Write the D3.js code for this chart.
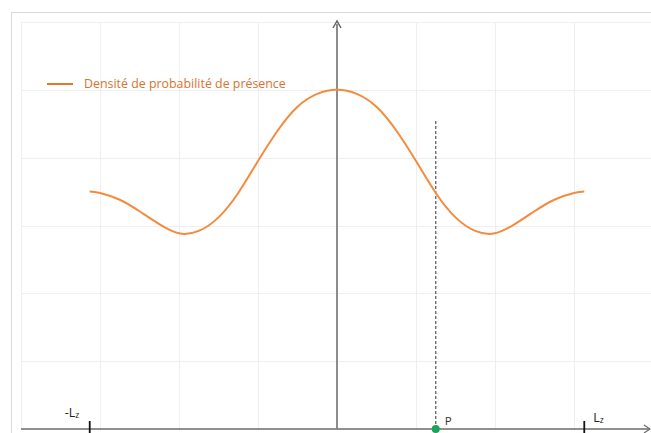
<!DOCTYPE html>
<html><head><meta charset="utf-8">
<script src="https://cdn.jsdelivr.net/npm/d3@7"></script>
<style>body{margin:0;background:#fff}svg{display:block}</style>
</head><body>
<svg id="c" width="651" height="433"></svg>
<script>
// ---- data ----
const xs = [-3.13,-3.0,-2.75,-2.5,-2.25,-2.0,-1.75,-1.5,-1.25,-1.0,-0.75,-0.5,-0.25,0,0.25,0.5,0.75,1.0,1.25,1.5,1.75,2.0,2.25,2.5,2.75,3.0,3.13];
const density = [3.50,3.48,3.38,3.21,3.02,2.885,2.92,3.12,3.48,3.95,4.40,4.75,4.94,5.0,4.94,4.75,4.40,3.95,3.48,3.12,2.92,2.885,3.02,3.21,3.38,3.48,3.50];
const seriesName = "Densité de probabilité de présence";
const tickValues = [-3.13, 3.13];
const tickLabels = [{main:"-L", sub:"z"}, {main:"L", sub:"z"}];
const pointP = {x:1.25, label:"P", top:4.54};
const gridX = [-4,-3,-2,-1,0,1,2,3,4];
const gridY = [0,1,2,3,4,5,6];

const svg = d3.select("#c");
const x = d3.scaleLinear().domain([-4,4]).range([21,653]);
const y = d3.scaleLinear().domain([0,6]).range([429,22]);

// outer frame
svg.append("rect").attr("x",11.5).attr("y",12.5).attr("width",700).attr("height",500)
  .attr("fill","none").attr("stroke","#d9d9d9").attr("stroke-width",1);

// grid
svg.append("g").selectAll("line").data(gridX).join("line")
  .attr("x1",d=>Math.round(x(d))+0.5).attr("x2",d=>Math.round(x(d))+0.5)
  .attr("y1",y(6)).attr("y2",y(0))
  .attr("stroke","#efefef").attr("stroke-width",1);
svg.append("g").selectAll("line").data(gridY.slice(1)).join("line")
  .attr("y1",d=>Math.round(y(d))+0.5).attr("y2",d=>Math.round(y(d))+0.5)
  .attr("x1",x(-4)).attr("x2",660)
  .attr("stroke","#efefef").attr("stroke-width",1);

// x axis line with arrow
const xAxisY = y(0);
svg.append("line").attr("x1",x(-4)).attr("x2",650).attr("y1",xAxisY).attr("y2",xAxisY)
  .attr("stroke","#6b6b6b").attr("stroke-width",1.3);
svg.append("path").attr("d",`M644,${xAxisY-4} L650,${xAxisY} L644,${xAxisY+4}`)
  .attr("fill","none").attr("stroke","#6b6b6b").attr("stroke-width",1.2);

// y axis with arrow
svg.append("line").attr("x1",x(0)).attr("x2",x(0)).attr("y1",y(0)).attr("y2",y(6)+2)
  .attr("stroke","#808080").attr("stroke-width",1.8);
svg.append("path").attr("d",`M${x(0)-4},${y(6)+6} L${x(0)},${y(6)-1} L${x(0)+4},${y(6)+6}`)
  .attr("fill","none").attr("stroke","#606060").attr("stroke-width",1.4);

// ticks
svg.append("g").selectAll("line").data(tickValues).join("line")
  .attr("x1",d=>x(d)).attr("x2",d=>x(d)).attr("y1",xAxisY-8).attr("y2",xAxisY+5)
  .attr("stroke","#111").attr("stroke-width",1.8);
const tl = svg.append("g").selectAll("text").data(tickValues).join("text")
  .attr("x",(d,i)=> i===0 ? x(d)-25 : x(d)+9)
  .attr("y",(d,i)=> i===0 ? xAxisY-12 : xAxisY-7)
  .attr("font-family","Open Sans, sans-serif").attr("font-size",12.5).attr("fill","#222");
tl.append("tspan").text((d,i)=>tickLabels[i].main);
tl.append("tspan").attr("font-size",8.5).attr("dy",1).text((d,i)=>tickLabels[i].sub);

// dashed line at P
svg.append("line").attr("x1",x(pointP.x)).attr("x2",x(pointP.x))
  .attr("y1",y(pointP.top)).attr("y2",xAxisY)
  .attr("stroke","#555").attr("stroke-width",1.2).attr("stroke-dasharray","3,2");

// curve
const pts = xs.map((v,i)=>[v,density[i]]);
svg.append("path").datum(pts)
  .attr("d", d3.line().x(d=>x(d[0])).y(d=>y(d[1])).curve(d3.curveNatural))
  .attr("fill","none").attr("stroke","#F28B3E").attr("stroke-width",2);

// point P
svg.append("circle").attr("cx",x(pointP.x)).attr("cy",xAxisY).attr("r",4)
  .attr("fill","#1BA35B");
svg.append("text").attr("x",x(pointP.x)+9).attr("y",xAxisY-4)
  .attr("font-family","Open Sans, sans-serif").attr("font-size",11.5).attr("fill","#333")
  .text(pointP.label);

// legend
svg.append("line").attr("x1",47).attr("x2",73).attr("y1",84).attr("y2",84)
  .attr("stroke","#E07A30").attr("stroke-width",2);
svg.append("text").attr("x",84).attr("y",88)
  .attr("font-family","Open Sans, sans-serif").attr("font-size",12.4).attr("fill","#D8722E")
  .text(seriesName);
</script>
</body></html>
